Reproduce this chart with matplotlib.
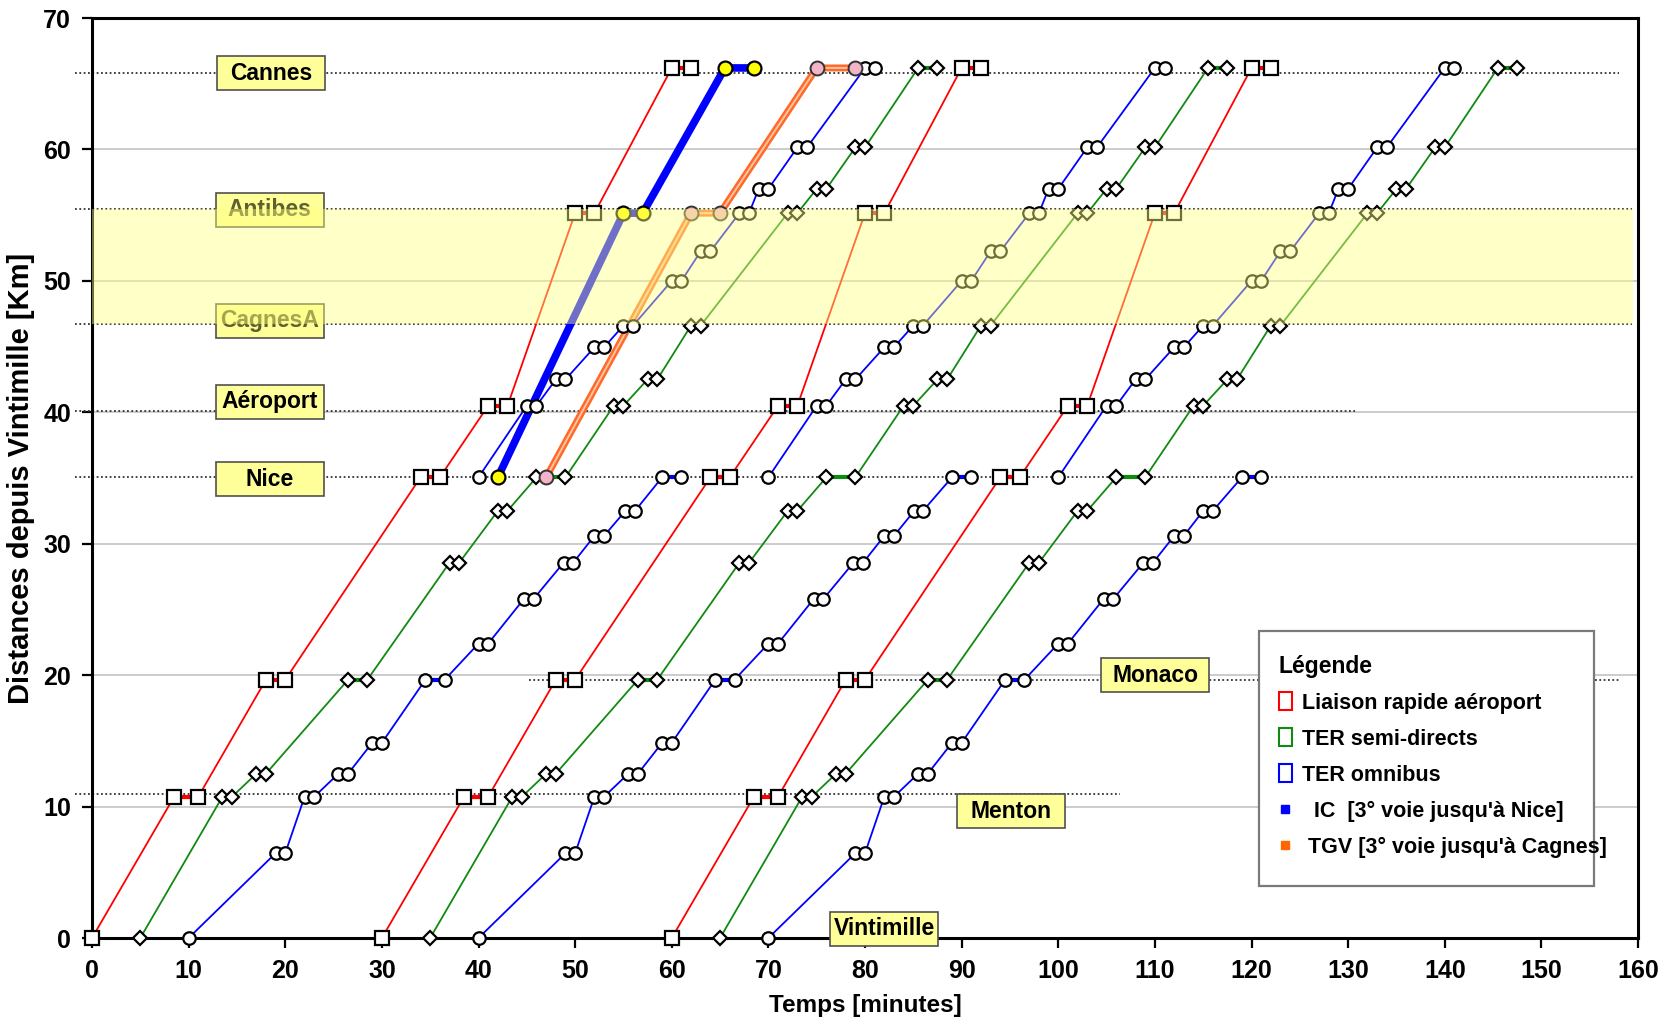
import matplotlib
matplotlib.use("Agg")
import matplotlib.pyplot as plt
from matplotlib.patches import Rectangle, Patch
from matplotlib.lines import Line2D

plt.rcParams['font.family'] = ['Liberation Sans', 'DejaVu Sans']
plt.rcParams['font.weight'] = 'bold'

# ---- data: distances [km] from Vintimille and times [min] ----
# Liaison rapide aeroport (red)
km_rapide = [0, 10.75, 10.75, 19.65, 19.65, 35.05, 35.05, 40.5, 40.5, 55.15, 55.15, 66.2, 66.2]
t_rapide = [
    [0, 8.5, 11, 18, 20, 34, 36, 41, 43, 50, 52, 60, 62],
    [30, 38.5, 41, 48, 50, 64, 66, 71, 73, 80, 82, 90, 92],
    [60, 68.5, 71, 78, 80, 94, 96, 101, 103, 110, 112, 120, 122],
]

# TER semi-directs (green)
km_semi = [0, 10.75, 10.75, 12.5, 12.5, 19.65, 19.65, 28.55, 28.55, 32.5, 32.5, 35.05, 35.05,
           40.5, 40.5, 42.5, 42.5, 46.6, 46.6, 55.15, 55.15, 57.0, 57.0, 60.15, 60.15, 66.2, 66.2]
t_semi = [
    [5, 13.5, 14.5, 17, 18, 26.5, 28.5, 37, 38, 42, 43, 46, 49,
     54, 55, 57.5, 58.5, 62, 63, 72, 73, 75, 76, 79, 80, 85.5, 87.5],
    [35, 43.5, 44.5, 47, 48, 56.5, 58.5, 67, 68, 72, 73, 76, 79,
     84, 85, 87.5, 88.5, 92, 93, 102, 103, 105, 106, 109, 110, 115.5, 117.5],
    [65, 73.5, 74.5, 77, 78, 86.5, 88.5, 97, 98, 102, 103, 106, 109,
     114, 115, 117.5, 118.5, 122, 123, 132, 133, 135, 136, 139, 140, 145.5, 147.5],
]

# TER omnibus Vintimille -> Nice (blue)
km_omni_sud = [0, 6.45, 6.45, 10.75, 10.75, 12.5, 12.5, 14.85, 14.85, 19.65, 19.65, 22.4, 22.4,
               25.8, 25.8, 28.55, 28.55, 30.6, 30.6, 32.5, 32.5, 35.05, 35.05]
t_omni_sud = [
    [10, 19, 20, 22, 23, 25.5, 26.5, 29, 30, 34.5, 36.5, 40, 41, 44.7, 45.7, 48.8, 49.8, 52, 53, 55.2, 56.2, 59, 61],
    [40, 49, 50, 52, 53, 55.5, 56.5, 59, 60, 64.5, 66.5, 70, 71, 74.7, 75.7, 78.8, 79.8, 82, 83, 85.1, 86, 89, 91],
    [70, 79, 80, 82, 83, 85.5, 86.5, 89, 90, 94.5, 96.5, 100, 101, 104.7, 105.7, 108.8, 109.8, 112, 113, 115, 116, 119, 121],
]

# TER omnibus Nice -> Cannes (blue)
km_omni_nord = [35.05, 40.5, 40.5, 42.5, 42.5, 44.95, 44.95, 46.6, 46.6, 50.0, 50.0, 52.25, 52.25,
                55.15, 55.15, 57.0, 57.0, 60.15, 60.15, 66.2, 66.2]
t_omni_nord = [
    [40, 45, 46, 48, 49, 52, 53, 55, 56, 60, 61, 63, 64, 67, 68, 69, 70, 73, 74, 80, 81],
    [70, 75, 76, 78, 79, 82, 83, 85, 86, 90, 91, 93, 94, 97, 98, 99, 100, 103, 104, 110, 111],
    [100, 105, 106, 108, 109, 112, 113, 115, 116, 120, 121, 123, 124, 127, 128, 129, 130, 133, 134, 140, 141],
]

# IC and TGV
km_ic = [35.05, 55.15, 55.15, 66.2, 66.2]
t_ic = [42, 55, 57, 65.5, 68.5]
km_tgv = [35.05, 55.15, 55.15, 66.2, 66.2]
t_tgv = [47, 62, 65, 75, 79]

# station reference lines (km) and their extent (min)
gare_km = [65.85, 55.45, 46.7, 40.1, 35.05, 19.64, 10.95]
gare_de = [-1.8, -1.8, -1.8, -1.8, -1.8, 45.2, -1.8]
gare_a = [158.0, 159.4, 159.4, 130.7, 159.6, 158.2, 106.4]

# station labels
labels = ['Cannes', 'Antibes', 'CagnesA', 'Aéroport', 'Nice', 'Monaco', 'Menton', 'Vintimille']
lab_t = [18.5, 18.4, 18.4, 18.4, 18.4, 110.05, 95.15, 82.0]
lab_km = [65.8, 55.4, 46.95, 40.8, 34.9, 20.0, 9.65, 0.7]

legend_labels = ['Liaison rapide aéroport', 'TER semi-directs', 'TER omnibus',
                 '  IC  [3° voie jusqu\'à Nice]', ' TGV [3° voie jusqu\'à Cagnes]']

RED, GREEN, BLUE = '#FF0000', '#108A10', '#0000FF'

fig = plt.figure(figsize=(16.75, 10.29), dpi=100)
ax = fig.add_axes([92 / 1675, 91 / 1029, 1546 / 1675, 920 / 1029])
ax.set_xlim(0, 160)
ax.set_ylim(0, 70)
ax.set_xticks(range(0, 161, 10))
ax.set_yticks(range(0, 71, 10))
ax.yaxis.grid(True, color='#C4C4C4', lw=1.2, zorder=0.5)
ax.set_axisbelow(True)
ax.tick_params(labelsize=18, width=1.6, length=7, direction='out', pad=8)
for s in ax.spines.values():
    s.set_linewidth(2.2)

for y, a, b in zip(gare_km, gare_de, gare_a):
    ax.plot([a, b], [y, y], ls=(0, (1, 1.4)), color='#333333', lw=1.3, zorder=1.5, clip_on=False)


def draw_train(t, km, color, marker, ms):
    ax.plot(t, km, color=color, lw=1.3, zorder=2, clip_on=False)
    for i in range(len(t) - 1):
        if km[i] == km[i + 1]:
            ax.plot(t[i:i + 2], km[i:i + 2], color=color, lw=3, zorder=2,
                    solid_capstyle='butt')
    ax.plot(t, km, ls='none', marker=marker, ms=ms, mfc='white', mec='black',
            mew=1.6, zorder=3, clip_on=False)


for t in t_rapide:
    draw_train(t, km_rapide, RED, 's', 9.5)
for t in t_semi:
    draw_train(t, km_semi, GREEN, 'D', 7.5)
for t in t_omni_sud:
    draw_train(t, km_omni_sud, BLUE, 'o', 9)
for t in t_omni_nord:
    draw_train(t, km_omni_nord, BLUE, 'o', 9)

# IC
ax.plot(t_ic, km_ic, color='#0000FF', lw=5.5, zorder=2.5, solid_joinstyle='round')
ax.plot(t_ic, km_ic, ls='none', marker='o', ms=10, mfc='#FFFF00', mec='black', mew=1.6, zorder=3.5)
# TGV
ax.plot(t_tgv, km_tgv, color='#FF6A2A', lw=5, zorder=2.5, solid_joinstyle='round')
ax.plot(t_tgv, km_tgv, color='#FFC4A0', lw=1.4, zorder=2.6)
ax.plot(t_tgv, km_tgv, ls='none', marker='o', ms=10, mfc='#F2B4C6', mec='#333333', mew=1.4, zorder=3.5)

# station label boxes
for name, x, y in zip(labels, lab_t, lab_km):
    ax.add_patch(Rectangle((x - 5.6, y - 1.3), 11.2, 2.6, facecolor='#FFFF99',
                           edgecolor='#505050', lw=1.2, zorder=5, clip_on=False))
    col = '#5E5E2E' if name in ('Antibes', 'CagnesA') else 'black'
    ax.text(x, y, name, ha='center', va='center', fontsize=16.5, fontweight='bold',
            color=col, zorder=5.5, clip_on=False)

# translucent yellow band (3rd track zone)
ax.add_patch(Rectangle((0, 46.7), 159.5, 55.45 - 46.7, facecolor='#FFFF82',
                       alpha=0.44, lw=0, zorder=6))

ax.set_xlabel('Temps [minutes]', fontsize=17.5, fontweight='bold', labelpad=8)
ax.set_ylabel('Distances depuis Vintimille [Km]', fontsize=21, fontweight='bold', labelpad=6)

# legend
fig.patches.append(Rectangle((1259 / 1675, 1 - 886 / 1029), 335 / 1675, 255 / 1029,
                             transform=fig.transFigure, facecolor='white',
                             edgecolor='#7A7A7A', lw=1.6, zorder=7))
handles = [Patch(facecolor='white', edgecolor=RED, lw=1.5),
           Patch(facecolor='white', edgecolor=GREEN, lw=1.5),
           Patch(facecolor='white', edgecolor=BLUE, lw=1.5),
           Line2D([], [], ls='none', marker='s', ms=6, color='#0000FF'),
           Line2D([], [], ls='none', marker='s', ms=6, color='#FF6600')]
leg = fig.legend(handles, legend_labels, loc='upper left',
                 bbox_to_anchor=(1268 / 1675, 1 - 644 / 1029), frameon=False,
                 fontsize=15.5, title='Légende', alignment='left',
                 title_fontproperties={'weight': 'bold', 'size': 16.5},
                 handlelength=0.6, handleheight=0.9, handletextpad=0.5,
                 labelspacing=0.68, borderpad=0)
leg.set_zorder(8)

fig.savefig('out.png', dpi=100)
